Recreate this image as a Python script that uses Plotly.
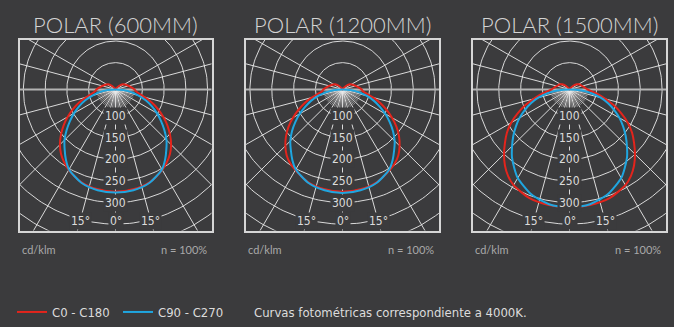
import numpy as np
import plotly.graph_objects as go

# Luminous intensity (cd/klm) versus angle from nadir (degrees), one side of each plane
angles = [0, 10, 20, 30, 35, 40, 45, 50, 55, 60, 65, 70, 75, 80, 85, 90,
          100, 110, 118, 125, 135, 145, 155, 180]

c0_600 = [275, 273, 267, 253, 244, 233, 219, 202, 184, 165, 146, 127, 108, 93, 85, 82,
          73, 66, 62, 59, 50, 41, 20, 0]
c90_600 = [277, 275, 268, 252, 237, 220, 204, 185, 166, 148, 130, 112, 93, 75, 56, 0,
           0, 0, 0, 0, 0, 0, 0, 0]

c0_1200 = [275, 273, 267, 254, 247, 237, 223, 207, 189, 169, 149, 130, 110, 94, 85, 82,
           73, 66, 62, 59, 50, 41, 20, 0]
c90_1200 = [278, 275, 268, 252, 238, 222, 207, 189, 170, 151, 132, 114, 96, 77, 59, 0,
            0, 0, 0, 0, 0, 0, 0, 0]

c0_1500 = [311, 310, 306, 294, 283, 268, 250, 231, 213, 192, 169, 146, 123, 105, 89, 79,
           71, 66, 63, 59, 50, 41, 20, 0]
c90_1500 = [312, 308, 296, 275, 259, 243, 224, 206, 188, 170, 151, 132, 112, 89, 66, 0,
            0, 0, 0, 0, 0, 0, 0, 0]

titles = ["POLAR (600MM)", "POLAR (1200MM)", "POLAR (1500MM)"]
series_names = ["C0 - C180", "C90 - C270"]
ring_values = [100, 150, 200, 250, 300, 350, 400]
ring_labels = [100, 150, 200, 250, 300]
degree_ticks = [-15, 0, 15]
spoke_angles = [a for a in range(-120, 121, 15) if abs(a) != 90]
fine_spoke_angles = [a for a in range(-85, 86, 5) if a % 15 != 0]
unit_label = "cd/klm"
efficiency_label = "n = 100%"
note_text = "Curvas fotométricas correspondiente a 4000K."

panels = [
    (titles[0], c0_600, c90_600),
    (titles[1], c0_1200, c90_1200),
    (titles[2], c0_1500, c90_1500),
]

# Styling
BG = "#3b3b3d"
GRID = "rgba(235,235,235,0.9)"
FINE_GRID = "rgba(235,235,235,0.6)"
HORIZ = "#b4b4b4"
FRAME = "#d6d6d6"
RED = "#e3241c"
BLUE = "#1fa6e0"
TEXT = "#dcdcdc"
SUBTEXT = "#a9a9a9"
TITLE_FONT = "Lato, 'Open Sans', 'Noto Sans', sans-serif"
NARROW_FONT = "'Liberation Sans Narrow', 'DejaVu Sans Condensed', 'Roboto Condensed', Roboto, sans-serif"

W, H = 674, 327
R0 = 38  # radial value at the pole
box_px = [(19.5, 211.5), (246, 439), (473, 666)]
box_top, box_bottom = 40, 232
x_range = [-221, 221]
y_range = [-327, 115]


def to_xy(theta_deg, values):
    th = np.radians(np.asarray(theta_deg, dtype=float))
    rho = np.clip(np.asarray(values, dtype=float) - R0, 0, None)
    return rho * np.sin(th), -rho * np.cos(th)


def mirrored(values):
    th = [-a for a in angles[::-1]] + angles[1:]
    v = list(values[::-1]) + list(values[1:])
    x, y = to_xy(th, v)
    # drop repeated points at the pole
    keep = [0]
    for i in range(1, len(x)):
        if abs(x[i] - x[keep[-1]]) > 1e-9 or abs(y[i] - y[keep[-1]]) > 1e-9:
            keep.append(i)
    return x[keep], y[keep]


fig = go.Figure()
annotations = []

for i, (title, c0, c90) in enumerate(panels):
    xa = "x" if i == 0 else f"x{i + 1}"
    ya = "y" if i == 0 else f"y{i + 1}"

    # concentric rings
    gx, gy = [], []
    ring_t = np.linspace(0, 360, 241)
    for v in ring_values:
        x, y = to_xy(ring_t, np.full_like(ring_t, v))
        gx += list(x) + [None]
        gy += list(y) + [None]
    # 15 degree spokes
    for a in spoke_angles:
        x, y = to_xy([a, a], [R0, R0 + 700])
        gx += list(x) + [None]
        gy += list(y) + [None]
    fig.add_trace(go.Scatter(x=gx, y=gy, mode="lines", xaxis=xa, yaxis=ya,
                             line=dict(color=GRID, width=1), hoverinfo="skip",
                             showlegend=False))
    # fine spokes around the pole
    fx, fy = [], []
    for a in fine_spoke_angles:
        x, y = to_xy([a, a], [R0, 82])
        fx += list(x) + [None]
        fy += list(y) + [None]
    fig.add_trace(go.Scatter(x=fx, y=fy, mode="lines", xaxis=xa, yaxis=ya,
                             line=dict(color=FINE_GRID, width=0.8), hoverinfo="skip",
                             showlegend=False))
    # horizontal line through the pole
    hx, _ = to_xy([-90, 90], [R0 + 700, R0 + 700])
    fig.add_trace(go.Scatter(x=list(hx), y=[0, 0], mode="lines", xaxis=xa, yaxis=ya,
                             line=dict(color=HORIZ, width=2), hoverinfo="skip",
                             showlegend=False))

    # photometric curves
    for vals, color, name in ((c0, RED, series_names[0]), (c90, BLUE, series_names[1])):
        x, y = mirrored(vals)
        fig.add_trace(go.Scatter(x=x, y=y, mode="lines", xaxis=xa, yaxis=ya, name=name,
                                 line=dict(color=color, width=2, shape="spline", smoothing=0.7),
                                 showlegend=(i == 0), legendgroup=name))

    # ring value labels on the nadir axis
    for v in ring_labels:
        annotations.append(dict(x=0, y=-(v - R0), xref=xa, yref=ya, text=str(v),
                                showarrow=False, bgcolor=BG, borderpad=1,
                                font=dict(family=NARROW_FONT, size=12, color=TEXT)))
    # angle labels
    for a in degree_ticks:
        yv = -304
        annotations.append(dict(x=-yv * np.tan(np.radians(a)), y=yv, xref=xa, yref=ya,
                                text=f"{abs(a)}°", showarrow=False, bgcolor=BG, borderpad=1,
                                font=dict(family=NARROW_FONT, size=12, color=TEXT)))

    left, right = box_px[i]
    annotations.append(dict(x=(left + right) / 2 / W, y=1 - 25 / H, xref="paper", yref="paper",
                            text=title, showarrow=False, xanchor="center", yanchor="middle",
                            font=dict(family=TITLE_FONT, size=22, color="#d4d4d4", weight=300)))
    annotations.append(dict(x=left / W, y=1 - 251 / H, xref="paper", yref="paper",
                            text=unit_label, showarrow=False, xanchor="left", yanchor="middle",
                            font=dict(family=TITLE_FONT, size=11, color=SUBTEXT)))
    annotations.append(dict(x=(right - 3) / W, y=1 - 251 / H, xref="paper", yref="paper",
                            text=efficiency_label, showarrow=False, xanchor="right",
                            yanchor="middle",
                            font=dict(family=TITLE_FONT, size=11, color=SUBTEXT)))

annotations.append(dict(x=252 / W, y=1 - 314 / H, xref="paper", yref="paper", text=note_text,
                        showarrow=False, xanchor="left", yanchor="middle",
                        font=dict(family=NARROW_FONT, size=13, color=TEXT)))

layout_axes = {}
for i in range(3):
    left, right = box_px[i]
    xk = "xaxis" if i == 0 else f"xaxis{i + 1}"
    yk = "yaxis" if i == 0 else f"yaxis{i + 1}"
    ya = "y" if i == 0 else f"y{i + 1}"
    xa = "x" if i == 0 else f"x{i + 1}"
    layout_axes[xk] = dict(domain=[left / W, right / W], range=x_range, anchor=ya,
                           showgrid=False, zeroline=False, showticklabels=False, ticks="",
                           showline=True, mirror=True, linecolor=FRAME, linewidth=1.5,
                           fixedrange=True)
    layout_axes[yk] = dict(domain=[1 - box_bottom / H, 1 - box_top / H], range=y_range,
                           anchor=xa, showgrid=False, zeroline=False, showticklabels=False,
                           ticks="", showline=True, mirror=True, linecolor=FRAME,
                           linewidth=1.5, fixedrange=True)

fig.update_layout(
    width=W, height=H, margin=dict(l=0, r=0, t=0, b=0),
    paper_bgcolor=BG, plot_bgcolor=BG,
    annotations=annotations,
    showlegend=True,
    legend=dict(orientation="h", x=12 / W, y=1 - 314 / H, xanchor="left", yanchor="middle",
                bgcolor="rgba(0,0,0,0)", font=dict(family=NARROW_FONT, size=13, color=TEXT),
                itemwidth=30, entrywidth=61, entrywidthmode="pixels"),
    **layout_axes,
)

fig.write_html("out.html")
